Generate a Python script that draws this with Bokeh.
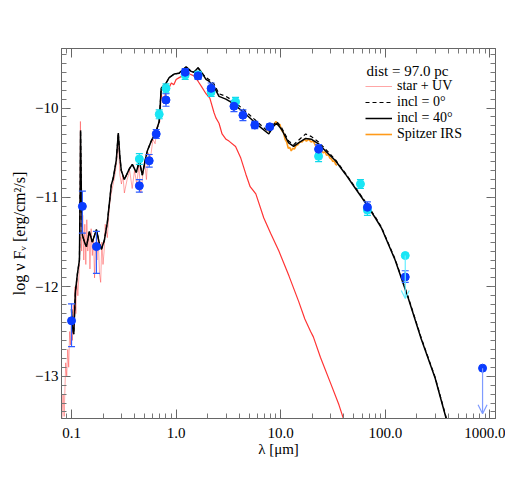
from bokeh.plotting import figure
from bokeh.models import (LogAxis, LinearAxis, FixedTicker, SingleIntervalTicker,
                          CustomJSTickFormatter, Legend, LegendItem, Label, Arrow,
                          OpenHead, ColumnDataSource, Range1d)
from bokeh.embed import file_html
from bokeh.resources import INLINE

FONT = "Liberation Serif"

# ---------------- data (wavelength in micron, log nu F_nu in erg/cm2/s) -------------
star_uv_wl = [0.080, 0.083, 0.085, 0.088, 0.090, 0.092, 0.094, 0.096, 0.098, 0.100,
              0.102, 0.104, 0.106, 0.108, 0.110, 0.112, 0.115, 0.118, 0.120, 0.1216,
              0.123, 0.125, 0.128, 0.131, 0.134, 0.137, 0.140, 0.143, 0.147, 0.150,
              0.154, 0.158, 0.162, 0.166, 0.170, 0.175, 0.180, 0.185, 0.190, 0.195,
              0.200, 0.205, 0.210, 0.220, 0.230, 0.240, 0.250, 0.260, 0.270, 0.280,
              0.285, 0.290, 0.300, 0.310, 0.320, 0.340, 0.360, 0.380, 0.400, 0.420,
              0.440, 0.460, 0.480, 0.500, 0.520, 0.540, 0.570, 0.600, 0.630, 0.660,
              0.700, 0.720]
star_uv_logf = [-13.60, -13.20, -13.45, -12.85, -13.00, -12.70, -12.90, -12.50, -12.65, -12.30,
                -12.60, -12.20, -12.45, -12.00, -12.30, -11.90, -12.10, -11.85, -11.60, -10.15,
                -11.30, -11.60, -11.20, -11.70, -11.30, -11.75, -11.25, -11.60, -11.40, -11.80,
                -11.35, -11.65, -11.45, -11.90, -11.50, -11.70, -11.45, -11.85, -11.95, -11.50,
                -11.75, -11.60, -11.30, -11.45, -11.10, -10.95, -10.85, -10.75, -10.60, -10.30,
                -10.55, -10.75, -10.85, -10.75, -10.95, -10.80, -10.70, -10.90, -10.70, -10.85,
                -10.65, -10.95, -10.75, -10.60, -10.80, -10.50, -10.55, -10.35, -10.40, -10.20,
                -10.15, -9.85]

star_ir_wl = [0.72, 0.76, 0.80, 0.85, 0.90, 0.95, 1.00, 1.07, 1.15, 1.25,
              1.35, 1.48, 1.62, 1.75, 1.93, 2.10, 2.30, 2.40, 2.57, 2.75,
              3.00, 3.20, 3.70, 4.15, 4.64, 5.10, 5.78, 6.89, 8.00, 9.60,
              12.0, 14.8, 17.0, 19.3, 20.5, 24.0, 30.0, 36.0, 42.0]
star_ir_logf = [-9.85, -9.95, -9.80, -9.78, -9.72, -9.74, -9.68, -9.66, -9.64, -9.60,
                -9.62, -9.64, -9.70, -9.76, -9.84, -9.89, -10.05, -10.11, -10.17, -10.29,
                -10.35, -10.37, -10.43, -10.56, -10.74, -10.88, -10.96, -11.23, -11.40, -11.60,
                -11.88, -12.16, -12.36, -12.50, -12.56, -12.79, -13.08, -13.32, -13.56]

model_wl = [0.100, 0.102, 0.105, 0.109, 0.114, 0.119, 0.121, 0.122, 0.124, 0.127,
            0.133, 0.139, 0.148, 0.158, 0.173, 0.185, 0.193, 0.206, 0.220, 0.240,
            0.251, 0.268, 0.280, 0.290, 0.299, 0.320, 0.357, 0.381, 0.416, 0.445,
            0.475, 0.507, 0.530, 0.578, 0.645, 0.689, 0.720, 0.803, 0.858, 0.957,
            1.068, 1.245, 1.39, 1.48, 1.62, 1.77, 1.93, 2.06, 2.30, 2.57,
            2.99, 3.41, 4.25, 4.96, 6.17, 7.69, 8.58, 9.16, 10.2, 11.9,
            13.3, 14.8, 17.3, 19.7, 23.0, 26.8, 33.4, 41.6, 51.8, 64.5,
            80.3, 91.6, 124, 166, 220, 299, 381, 420]
incl40_logf = [-12.25, -12.45, -12.53, -12.05, -11.85, -11.70, -10.90, -10.25, -10.90, -11.42,
               -11.50, -11.55, -11.38, -11.50, -11.36, -11.52, -11.58, -11.48, -11.28, -10.86,
               -10.78, -10.58, -10.28, -10.55, -10.70, -10.80, -10.68, -10.63, -10.72, -10.59,
               -10.75, -10.58, -10.48, -10.37, -10.26, -10.15, -9.78, -9.72, -9.66, -9.62,
               -9.61, -9.54, -9.59, -9.60, -9.55, -9.61, -9.68, -9.70, -9.76, -9.87,
               -9.90, -9.94, -10.03, -10.10, -10.20, -10.29, -10.20, -10.17, -10.24, -10.39,
               -10.43, -10.39, -10.34, -10.35, -10.40, -10.48, -10.59, -10.74, -10.90, -11.06,
               -11.23, -11.34, -11.70, -12.13, -12.58, -13.02, -13.47, -13.68]
incl0_logf = [-12.25, -12.45, -12.53, -12.05, -11.85, -11.70, -10.90, -10.25, -10.90, -11.42,
              -11.50, -11.55, -11.38, -11.50, -11.36, -11.52, -11.58, -11.48, -11.28, -10.86,
              -10.78, -10.58, -10.28, -10.55, -10.70, -10.80, -10.68, -10.63, -10.72, -10.59,
              -10.75, -10.58, -10.48, -10.37, -10.26, -10.15, -9.78, -9.72, -9.66, -9.62,
              -9.61, -9.54, -9.59, -9.60, -9.55, -9.61, -9.66, -9.68, -9.73, -9.84,
              -9.87, -9.91, -10.00, -10.07, -10.17, -10.27, -10.18, -10.15, -10.22, -10.37,
              -10.41, -10.36, -10.29, -10.32, -10.38, -10.46, -10.58, -10.73, -10.89, -11.05,
              -11.22, -11.33, -11.69, -12.12, -12.57, -13.01, -13.46, -13.67]

irs_wl = [7.5, 7.8, 8.0, 8.3, 8.6, 9.0, 9.4, 9.8, 10.2, 10.6,
          11.0, 11.4, 11.8, 12.2, 12.6, 13.0, 13.5, 14.0, 14.6, 15.2,
          16.0, 16.8, 17.6, 18.5, 19.5, 20.5, 21.5, 22.5, 23.5, 24.5,
          25.5, 26.5, 27.5, 28.5, 29.5, 30.5, 31.5, 32.5, 33.5, 34.5]
irs_logf = [-10.26, -10.22, -10.24, -10.18, -10.19, -10.15, -10.19, -10.18, -10.25, -10.27,
            -10.35, -10.38, -10.45, -10.44, -10.48, -10.45, -10.46, -10.42, -10.41, -10.38,
            -10.38, -10.35, -10.37, -10.35, -10.38, -10.37, -10.42, -10.41, -10.45, -10.47,
            -10.50, -10.49, -10.53, -10.52, -10.56, -10.57, -10.60, -10.59, -10.63, -10.64]

phot_wl = [0.100, 0.127, 0.173, 0.445, 0.553, 0.645, 0.80, 1.22, 1.62, 2.16,
           3.57, 4.35, 5.65, 7.85, 23.0, 67.4, 155]
phot_logf = [-12.38, -11.10, -11.55, -10.87, -10.59, -10.29, -9.91, -9.60, -9.64, -9.78,
             -9.98, -10.08, -10.19, -10.21, -10.46, -11.11, -11.89]
phot_lo = [-12.67, -11.40, -11.85, -10.94, -10.66, -10.34, -9.98, -9.64, -9.68, -9.84,
           -10.04, -10.14, -10.23, -10.24, -10.51, -11.17, -11.95]
phot_hi = [-12.19, -10.93, -11.38, -10.80, -10.52, -10.24, -9.84, -9.56, -9.60, -9.72,
           -9.92, -10.02, -10.15, -10.18, -10.41, -11.05, -11.82]

phot2_wl = [0.445, 0.689, 0.80, 1.22, 1.62, 2.16, 3.70, 23.0, 57.8, 67.4]
phot2_logf = [-10.57, -10.07, -9.78, -9.63, -9.63, -9.82, -9.93, -10.54, -10.85, -11.14]
phot2_lo = [-10.63, -10.12, -9.83, -9.68, -9.67, -9.87, -9.98, -10.60, -10.90, -11.20]
phot2_hi = [-10.51, -10.02, -9.73, -9.58, -9.59, -9.77, -9.88, -10.48, -10.80, -11.08]

# upper limits: (wavelength, value, arrow tip)
ulim2_wl, ulim2_logf, ulim2_tip = 155, -11.65, -12.13      # cyan
ulim_wl, ulim_logf, ulim_tip = 850, -12.91, -13.42         # blue

legend_labels = ["star + UV", "incl = 0°", "incl = 40°", "Spitzer IRS"]
dist_text = "dist = 97.0 pc"
x_title = "λ [μm]"
y_title = "log ν Fᵥ [erg/cm²/s]"

BLUE = "#0a3cff"
BLUE_ERR = "#2f5cff"
CYAN = "#19e6f5"
CYAN_ERR = "#10d8ea"

p = figure(frame_width=434, frame_height=370, x_axis_type="log",
           x_range=Range1d(0.0802, 1130), y_range=Range1d(-13.473, -9.334),
           output_backend="svg", toolbar_location=None,
           min_border_left=61, min_border_top=48, min_border_right=10, min_border_bottom=50)
p.xgrid.visible = False
p.ygrid.visible = False
p.outline_line_color = "#666666"
p.background_fill_color = "white"
p.border_fill_color = "white"

bottom = p.xaxis[0]
left = p.yaxis[0]

# spectra
r_uv = p.line(star_uv_wl, star_uv_logf, line_color="#ff2020", line_alpha=0.4, line_width=1)
p.line(star_ir_wl, star_ir_logf, line_color="#ff1010", line_alpha=0.85, line_width=1.2)
r_irs = p.line(irs_wl, irs_logf, line_color="#ff9a1a", line_width=1.6)
r40 = p.line(model_wl, incl40_logf, line_color="black", line_width=1.5)
r0 = p.line(model_wl, incl0_logf, line_color="black", line_width=1.2, line_dash="4 3")

# photometry with error bars
s1 = ColumnDataSource(dict(wl=phot_wl, f=phot_logf, lo=phot_lo, hi=phot_hi))
s2 = ColumnDataSource(dict(wl=phot2_wl, f=phot2_logf, lo=phot2_lo, hi=phot2_hi))
for src, col, ecol in ((s2, CYAN, CYAN_ERR), (s1, BLUE, BLUE_ERR)):
    p.segment(x0="wl", y0="lo", x1="wl", y1="hi", source=src, line_color=ecol, line_width=1.2)
    p.scatter(x="wl", y="lo", source=src, marker="dash", size=7, line_color=ecol, line_width=1.2)
    p.scatter(x="wl", y="hi", source=src, marker="dash", size=7, line_color=ecol, line_width=1.2)

# upper limits
p.add_layout(Arrow(x_start=ulim2_wl, y_start=ulim2_logf, x_end=ulim2_wl, y_end=ulim2_tip,
                   line_color="#66eeff", line_width=1.2,
                   end=OpenHead(size=8, line_color="#66eeff", line_width=1.2)))
p.add_layout(Arrow(x_start=ulim_wl, y_start=ulim_logf, x_end=ulim_wl, y_end=ulim_tip,
                   line_color="#7f9bff", line_width=1.2,
                   end=OpenHead(size=9, line_color="#7f9bff", line_width=1.2)))

p.scatter(phot2_wl, phot2_logf, size=8, fill_color=CYAN, line_color=CYAN)
p.scatter([ulim2_wl], [ulim2_logf], size=8, fill_color=CYAN, line_color=CYAN)
p.scatter(phot_wl, phot_logf, size=8, fill_color=BLUE, line_color=BLUE)
p.scatter([ulim_wl], [ulim_logf], size=8, fill_color=BLUE, line_color=BLUE)

# axes
xmajor = [0.1, 1, 10, 100, 1000]
xminor = [m * 10.0 ** e for e in range(-2, 4) for m in range(2, 10)]
xticker = FixedTicker(ticks=xmajor, minor_ticks=xminor)
yticker = SingleIntervalTicker(interval=1, num_minor_ticks=10)

bottom.ticker = xticker
bottom.formatter = CustomJSTickFormatter(code="return tick.toFixed(1);")
bottom.axis_label = x_title
left.ticker = yticker
left.axis_label = y_title

top = LogAxis(ticker=xticker, formatter=CustomJSTickFormatter(code="return '';"))
right = LinearAxis(ticker=yticker, formatter=CustomJSTickFormatter(code="return '';"))
p.add_layout(top, "above")
p.add_layout(right, "right")

for ax in (bottom, left, top, right):
    ax.major_tick_in = 9
    ax.major_tick_out = 0
    ax.minor_tick_in = 5
    ax.minor_tick_out = 0
    ax.axis_line_color = "#666666"
    ax.major_tick_line_color = "#666666"
    ax.minor_tick_line_color = "#777777"
    ax.major_label_text_font = FONT
    ax.major_label_text_font_size = "15px"
    ax.major_label_text_color = "black"
    ax.axis_label_text_font = FONT
    ax.axis_label_text_font_size = "15px"
    ax.axis_label_text_font_style = "normal"
    ax.axis_label_text_color = "black"

left.axis_label_text_font_size = "16px"
bottom.major_label_standoff = 9
bottom.axis_label_standoff = 0
left.major_label_standoff = 3
left.axis_label_standoff = 4
top.major_label_standoff = 0
right.major_label_standoff = 0

# legend
p.add_layout(Label(x=305, y=348, x_units="screen", y_units="screen",
                   text=dist_text, text_font=FONT, text_font_size="15px",
                   text_baseline="middle", text_color="black"))
leg_renderers = [r_uv, r0, r40, r_irs]
leg_y = [324, 308, 292, 276]
for lab, rend, ly in zip(legend_labels, leg_renderers, leg_y):
    lg = Legend(items=[LegendItem(label=lab, renderers=[rend])],
                location=(304, ly), border_line_color=None, background_fill_alpha=0,
                padding=0, spacing=0, margin=0, glyph_width=27, glyph_height=16,
                label_height=16, label_standoff=5, label_text_font=FONT,
                label_text_font_size="14px", label_text_color="black")
    p.add_layout(lg)

open("out.html", "w").write(file_html(p, INLINE))
